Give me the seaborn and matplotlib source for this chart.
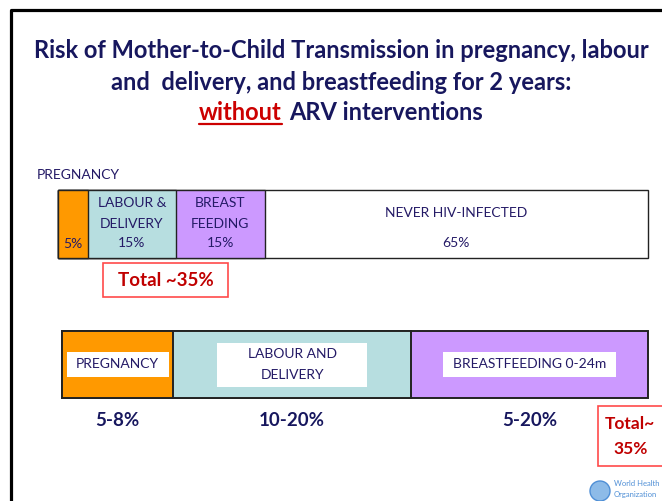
import matplotlib
matplotlib.use("Agg")
import matplotlib.pyplot as plt
from matplotlib.patches import Rectangle, Circle
import numpy as np
import seaborn as sns

# Outcome for infants of HIV-positive mothers, no ARV interventions
outcome_labels = ["", "LABOUR &\nDELIVERY", "BREAST\nFEEDING", "NEVER HIV-INFECTED"]
outcome_share = [5, 15, 15, 65]
outcome_value_text = ["5%", "15%", "15%", "65%"]
outcome_colors = ["#FF9900", "#B7DEE0", "#CC99FF", "#FFFFFF"]

# Timing of transmission (relative duration of each phase on the timeline)
phase_labels = ["PREGNANCY", "LABOUR AND\nDELIVERY", "BREASTFEEDING 0-24m"]
phase_span = [19, 40.5, 40.5]
phase_risk = ["5-8%", "10-20%", "5-20%"]
phase_colors = ["#FF9900", "#B7DEE0", "#CC99FF"]

total_top = "Total ~35%"
total_bottom = "Total~\n35%"

NAVY = "#17175E"
INK = "#241A66"
RED = "#C00000"
BOX_RED = "#FF4A4A"

TITLE_FS = 17
SMALL_FS = 10
RANGE_FS = 13.5

sns.set_theme(style="white")
plt.rcParams["font.family"] = ["Lato", "DejaVu Sans"]

W, H = 662, 501
fig = plt.figure(figsize=(W / 100, H / 100), dpi=100)
fig.patch.set_facecolor("white")

# Background axes in pixel units for frame, title and call-outs
bg = fig.add_axes([0, 0, 1, 1])
bg.set_xlim(0, W)
bg.set_ylim(H, 0)
bg.axis("off")


def px_axes(x0, y0, x1, y1):
    return fig.add_axes([x0 / W, (H - y1) / H, (x1 - x0) / W, (y1 - y0) / H])


def stacked_bar(ax, shares, colors, lw):
    cum = np.cumsum(shares)
    # layer the cumulative bars, longest first, to build one stacked bar
    for end, color in zip(cum[::-1], colors[::-1]):
        sns.barplot(x=[end], y=["row"], orient="h", color=color, saturation=1,
                    width=1, edgecolor="#222222", linewidth=lw, ax=ax)
    for p in ax.patches:
        p.set_clip_on(False)
    ax.set_xlim(0, cum[-1])
    ax.set_ylim(0.5, -0.5)
    ax.axis("off")
    return cum - np.array(shares) / 2


# Frame
bg.plot([11, 11, W + 5], [H + 5, 10, 10], color="black", lw=2.3,
        solid_capstyle="projecting", clip_on=False)

# Title
bg.text(341, 50, "Risk of Mother-to-Child Transmission in pregnancy, labour",
        ha="center", va="center", fontsize=TITLE_FS, fontweight="bold", color=NAVY)
bg.text(341, 82, "and  delivery, and breastfeeding for 2 years:",
        ha="center", va="center", fontsize=TITLE_FS, fontweight="bold", color=NAVY)
t1 = bg.text(0, 112, "without", ha="left", va="center", fontsize=TITLE_FS,
             fontweight="bold", color="#CC0000")
t2 = bg.text(0, 112, "ARV interventions", ha="left", va="center", fontsize=TITLE_FS,
             fontweight="bold", color=NAVY)
fig.canvas.draw()
rend = fig.canvas.get_renderer()
inv = bg.transData.inverted()


def px_width(t):
    bb = t.get_window_extent(rend)
    (xa, _), (xb, _) = inv.transform([[bb.x0, bb.y0], [bb.x1, bb.y1]])
    return xb - xa


w1, w2 = px_width(t1), px_width(t2)
gap = 7
start = 341 - (w1 + gap + w2) / 2
t1.set_x(start)
t2.set_x(start + w1 + gap)
bg.plot([start, start + w1], [124, 124], color="#CC0000", lw=1.6)

# Top bar
bg.text(37, 175, "PREGNANCY", ha="left", va="center", fontsize=SMALL_FS, color=INK)
ax1 = px_axes(58, 190, 648, 258)
centers = stacked_bar(ax1, outcome_share, outcome_colors, 1.0)
tr1 = ax1.get_xaxis_transform()
kw = dict(transform=tr1, ha="center", va="center", fontsize=SMALL_FS, color=INK)
for c, lab, val in zip(centers, outcome_labels, outcome_value_text):
    if lab == "":
        ax1.text(c, 0.2, val, **kw)
    elif "\n" in lab:
        l1, l2 = lab.split("\n")
        ax1.text(c, 0.81, l1, **kw)
        ax1.text(c, 0.5, l2, **kw)
        ax1.text(c, 0.22, val, **kw)
    else:
        ax1.text(c, 0.66, lab, **kw)
        ax1.text(c, 0.22, val, **kw)

bg.add_patch(Rectangle((103, 263), 125, 34, fc="white", ec=BOX_RED, lw=1.2))
bg.text(165.5, 280.5, total_top, ha="center", va="center", fontsize=RANGE_FS,
        fontweight="bold", color=RED)

# Bottom bar (timeline)
ax2 = px_axes(62, 331, 648, 398)
pcenters = stacked_bar(ax2, phase_span, phase_colors, 1.4)
tr2 = ax2.get_xaxis_transform()
box_w = [17.4, 25.6, 29.5]
box_y = [(0.31, 0.69), (0.16, 0.82), (0.31, 0.69)]
kw2 = dict(transform=tr2, ha="center", va="center", fontsize=SMALL_FS, color=INK, zorder=6)
for c, lab, bw, (yb, yt) in zip(pcenters, phase_labels, box_w, box_y):
    ax2.add_patch(Rectangle((c - bw / 2, yb), bw, yt - yb, transform=tr2,
                            fc="white", ec="none", zorder=5))
    lines = lab.split("\n")
    if len(lines) == 1:
        ax2.text(c, 0.5, lab, **kw2)
    else:
        ax2.text(c, 0.66, lines[0], **kw2)
        ax2.text(c, 0.34, lines[1], **kw2)

for c, r in zip(pcenters, phase_risk):
    ax2.text(c, -0.33, r, transform=tr2, ha="center", va="center",
             fontsize=RANGE_FS, fontweight="bold", color=NAVY, clip_on=False)

bg.add_patch(Rectangle((598, 406), 80, 60, fc="white", ec=BOX_RED, lw=1.2, clip_on=False))
bl1, bl2 = total_bottom.split("\n")
bg.text(605, 424, bl1, ha="left", va="center", fontsize=12.5, fontweight="bold", color=RED)
bg.text(631, 449, bl2, ha="center", va="center", fontsize=12.5, fontweight="bold", color=RED)

# Organisation emblem
bg.add_patch(Circle((600, 491), 10, fc="#8DBBE8", ec="#4F8FD6", lw=1.0))
bg.text(614, 484, "World Health", ha="left", va="center", fontsize=5.5, color="#4F8FD6")
bg.text(614, 495, "Organization", ha="left", va="center", fontsize=5.5, color="#4F8FD6")

fig.savefig("out.png", dpi=100)
